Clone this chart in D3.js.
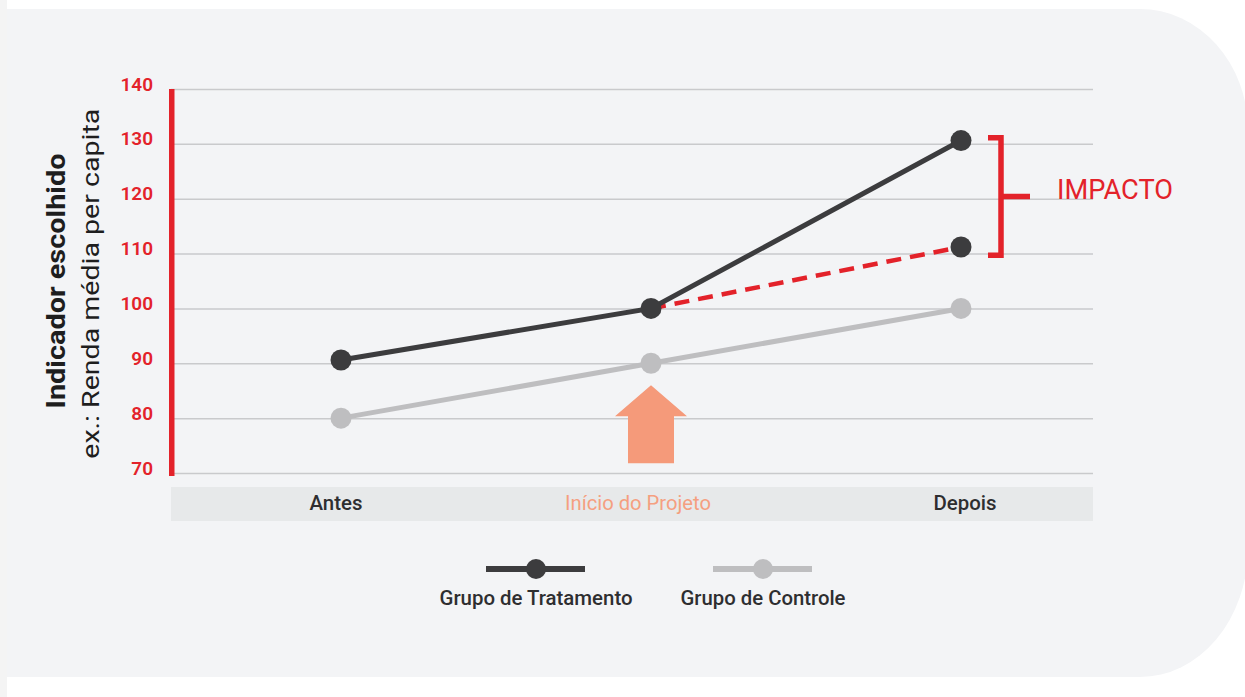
<!DOCTYPE html>
<html>
<head>
<meta charset="utf-8">
<script src="https://cdn.jsdelivr.net/npm/d3@7"></script>
<style>
  html, body { margin: 0; padding: 0; background: #ffffff; }
  svg { display: block; font-family: Roboto, "Open Sans", sans-serif; }
</style>
</head>
<body>
<svg id="chart" width="1245" height="697"></svg>
<script>
// ---- data ----
const categories = ["Antes", "Início do Projeto", "Depois"];
const treatment = [90.6, 100, 130.6];
const control = [80, 90, 100];
const counterfactualCats = ["Início do Projeto", "Depois"];
const counterfactual = [100, 111.2];
const yTicks = [70, 80, 90, 100, 110, 120, 130, 140];
const impactRange = [131.1, 109.7];
const arrowRange = [86, 71.8];
const seriesNames = ["Grupo de Tratamento", "Grupo de Controle"];

// ---- styles ----
const RED = "#e3222a", DARK = "#3c3c3e", GREY = "#bebec0", SALMON = "#f59a7a";

const svg = d3.select("#chart");

// background panel
svg.append("rect").attr("x", 0).attr("y", 0).attr("width", 7).attr("height", 697).attr("fill", "#f4f4f4");
svg.append("path")
  .attr("d", "M7,9 H1140 A108,121 0 0 1 1248,130 V548 A108,129 0 0 1 1140,677 H7 Z")
  .attr("fill", "#f3f4f6");

const x = d3.scalePoint().domain(categories).range([341, 961]);
const y = d3.scaleLinear().domain([70, 140]).range([473, 89]);
const plotLeft = 171, plotRight = 1093;

// category band
svg.append("rect").attr("x", plotLeft).attr("y", 487).attr("width", plotRight - plotLeft).attr("height", 34)
  .attr("fill", "#e7e9ea");

// gridlines via axis
const gridAxis = d3.axisLeft(y).tickValues(yTicks).tickSize(-(plotRight - plotLeft)).tickFormat("");
const gg = svg.append("g").attr("transform", `translate(${plotLeft},0)`).call(gridAxis);
gg.select(".domain").remove();
gg.selectAll(".tick line").attr("stroke", "#c9cacc").attr("stroke-width", 1.5);

// tick labels
const tickAxis = d3.axisLeft(y).tickValues(yTicks).tickSize(0).tickPadding(0).tickFormat(d3.format("d"));
const tg = svg.append("g").attr("transform", "translate(153,0)").call(tickAxis);
tg.select(".domain").remove();
tg.selectAll(".tick text")
  .attr("fill", RED).attr("font-size", 19).attr("font-weight", 600)
  .attr("font-family", "Roboto, sans-serif")
  .attr("dy", 1).attr("x", 0).attr("text-anchor", "end");

// red y axis bar
svg.append("rect").attr("x", 169).attr("y", y(140)).attr("width", 5.5).attr("height", y(70) - y(140) + 3)
  .attr("fill", RED);

// y title
svg.append("text").attr("transform", `translate(65,${y(105)}) rotate(-90)`)
  .attr("text-anchor", "middle").attr("font-size", 25).attr("font-weight", 700).attr("fill", "#1e1e1e")
  .attr("textLength", 255).attr("lengthAdjust", "spacingAndGlyphs")
  .text("Indicador escolhido");
svg.append("text").attr("transform", `translate(99,${y(104.5)}) rotate(-90)`)
  .attr("text-anchor", "middle").attr("font-size", 24).attr("font-weight", 400).attr("fill", "#1e1e1e")
  .attr("textLength", 350).attr("lengthAdjust", "spacingAndGlyphs")
  .text("ex.: Renda média per capita");

// category labels
const catColor = c => c === "Início do Projeto" ? "#f59f80" : "#2e2e30";
const catWidth = {"Antes": 53, "Início do Projeto": 146, "Depois": 63};
const catDx = {"Antes": -5, "Início do Projeto": -13, "Depois": 4};
svg.append("g").selectAll("text").data(categories).join("text")
  .attr("x", d => x(d) + catDx[d]).attr("y", 510)
  .attr("text-anchor", "middle").attr("font-size", 20).attr("font-weight", d => d === "Início do Projeto" ? 400 : 500)
  .attr("fill", catColor)
  .attr("textLength", d => catWidth[d]).attr("lengthAdjust", "spacingAndGlyphs")
  .text(d => d);

// orange arrow
const ax = x("Início do Projeto");
const aTop = y(arrowRange[0]), aBot = y(arrowRange[1]);
svg.append("path")
  .attr("d", `M${ax},${aTop} L${ax + 36},${aTop + 31} L${ax + 23},${aTop + 31} L${ax + 23},${aBot} L${ax - 23},${aBot} L${ax - 23},${aTop + 31} L${ax - 36},${aTop + 31} Z`)
  .attr("fill", SALMON);

// lines
const line = d3.line().x(d => x(d[0])).y(d => y(d[1]));
const ctrlData = categories.map((c, i) => [c, control[i]]);
const trtData = categories.map((c, i) => [c, treatment[i]]);
const cfData = counterfactualCats.map((c, i) => [c, counterfactual[i]]);

svg.append("path").datum(ctrlData).attr("d", line).attr("fill", "none").attr("stroke", GREY).attr("stroke-width", 5);
svg.append("g").selectAll("circle").data(ctrlData).join("circle")
  .attr("cx", d => x(d[0])).attr("cy", d => y(d[1])).attr("r", 10.5).attr("fill", GREY);

svg.append("path").datum(cfData).attr("d", line).attr("fill", "none").attr("stroke", RED)
  .attr("stroke-width", 4.5).attr("stroke-dasharray", "15,9");

svg.append("path").datum(trtData).attr("d", line).attr("fill", "none").attr("stroke", DARK).attr("stroke-width", 5);
svg.append("g").selectAll("circle").data(trtData.concat([cfData[1]])).join("circle")
  .attr("cx", d => x(d[0])).attr("cy", d => y(d[1])).attr("r", 10.5).attr("fill", DARK);

// impact bracket
const bx = 1001, bTop = y(impactRange[0]), bBot = y(impactRange[1]), bMid = (bTop + bBot) / 2;
svg.append("path")
  .attr("d", `M${bx - 13},${bTop} H${bx} V${bBot} H${bx - 13} M${bx},${bMid} H${bx + 29}`)
  .attr("fill", "none").attr("stroke", RED).attr("stroke-width", 5.5);
svg.append("text").attr("x", 1057).attr("y", bMid + 2)
  .attr("font-size", 27).attr("font-weight", 400).attr("fill", RED)
  .attr("textLength", 116).attr("lengthAdjust", "spacingAndGlyphs")
  .text("IMPACTO");

// legend
const legendX = [536, 763];
const legendColors = [DARK, GREY];
const legendWidths = [193, 165];
const lg = svg.append("g").selectAll("g").data(seriesNames).join("g")
  .attr("transform", (d, i) => `translate(${legendX[i]},569)`);
lg.append("line").attr("x1", -50).attr("x2", 49).attr("stroke", (d, i) => legendColors[i]).attr("stroke-width", 6);
lg.append("circle").attr("r", 10).attr("fill", (d, i) => legendColors[i]);
lg.append("text").attr("y", 36).attr("text-anchor", "middle").attr("font-size", 19.5).attr("font-weight", 500)
  .attr("fill", "#2e2e30")
  .attr("textLength", (d, i) => legendWidths[i]).attr("lengthAdjust", "spacingAndGlyphs")
  .text(d => d);
</script>
</body>
</html>
